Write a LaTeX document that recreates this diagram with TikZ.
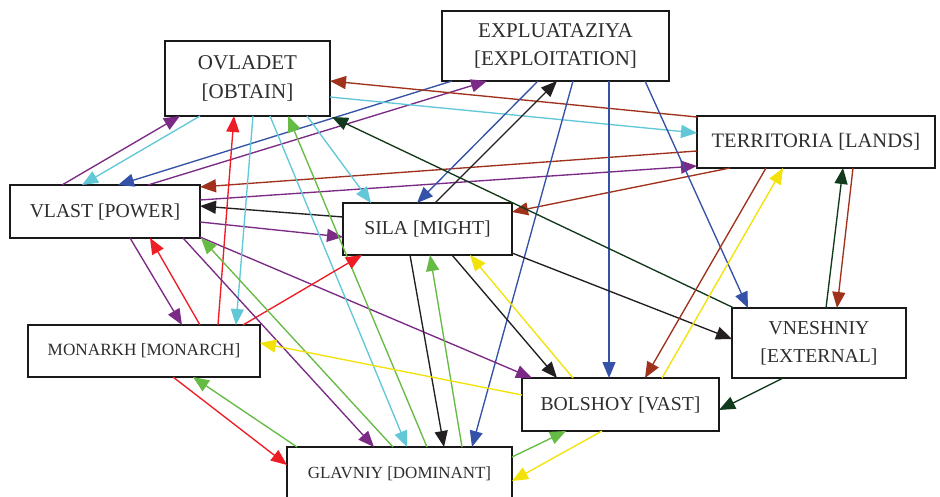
\documentclass[tikz,border=0pt]{standalone}
\usepackage{fontspec}
\setmainfont{Liberation Serif}
\usetikzlibrary{arrows.meta}
\definecolor{cpur}{HTML}{7B2A85}
\definecolor{ccya}{HTML}{62C8D8}
\definecolor{cblu}{HTML}{3452A8}
\definecolor{cbro}{HTML}{A0321C}
\definecolor{cblk}{HTML}{231F20}
\definecolor{cdgr}{HTML}{123A1C}
\definecolor{cred}{HTML}{EE1D25}
\definecolor{cgre}{HTML}{66BB44}
\definecolor{cyel}{HTML}{F2E20A}
\begin{document}
\begin{tikzpicture}[x=1pt,y=-1pt,
  box/.style={draw=black!90, line width=1.5pt, fill=white, inner sep=0pt, outer sep=0pt,
    align=center, text=black!82, font=\fontsize{19.7}{28}\selectfont},
  conn/.style={line width=1.35pt, -{Triangle[length=16pt,width=13pt]}},
]
\useasboundingbox (0,0) rectangle (940,497);
% nodes
\node[box, minimum width=165pt, minimum height=75pt, font=\fontsize{21}{29}\selectfont] (ov) at (247.5,78.5) {OVLADET\\{[OBTAIN]}};
\node[box, minimum width=227pt, minimum height=70pt, font=\fontsize{21}{28.5}\selectfont] (ex) at (555.5,46) {EXPLUATAZIYA\\{[EXPLOITATION]}};
\node[box, minimum width=238pt, minimum height=52pt, font=\fontsize{20.5}{28}\selectfont] (te) at (816,142) {TERRITORIA [LANDS]};
\node[box, minimum width=190pt, minimum height=53pt] (vl) at (105,211.5) {VLAST [POWER]};
\node[box, minimum width=169pt, minimum height=52pt] (si) at (427.5,229) {SILA [MIGHT]};
\node[box, minimum width=232pt, minimum height=52pt, font=\fontsize{17.2}{24}\selectfont] (mo) at (144,351) {MONARKH [MONARCH]};
\node[box, minimum width=225pt, minimum height=53pt, font=\fontsize{17}{24}\selectfont] (gl) at (399.5,473.5) {GLAVNIY [DOMINANT]};
\node[box, minimum width=197pt, minimum height=53pt] (bo) at (620.5,404.5) {BOLSHOY [VAST]};
\node[box, minimum width=174pt, minimum height=70pt] (vn) at (819,343) {VNESHNIY\\{[EXTERNAL]}};
% connectors
\draw[conn,cpur] ([xshift=52pt]vl.north west) -- ([xshift=15pt]ov.south west);
\draw[conn,ccya] ([xshift=35pt]ov.south west) -- ([xshift=72pt]vl.north west);
\draw[conn,cblu] ([xshift=10pt]ex.south west) -- ([xshift=108pt]vl.north west);
\draw[conn,cpur] ([xshift=138pt]vl.north west) -- ([xshift=45pt]ex.south west);
\draw[conn,cbro] ([yshift=-35pt]te.north west) -- ([yshift=-2pt]vl.north east);
\draw[conn,cpur] ([yshift=-15pt]vl.north east) -- ([yshift=-50pt]te.north west);
\draw[conn,cblk] ([yshift=-14pt]si.north west) -- ([yshift=-21pt]vl.north east);
\draw[conn,cpur] ([yshift=-37pt]vl.north east) -- ([yshift=-34pt]si.north west);
\draw[conn,cbro] ([yshift=-1pt]te.north west) -- ([yshift=-40pt]ov.north east);
\draw[conn,ccya] ([yshift=-56pt]ov.north east) -- ([yshift=-17pt]te.north west);
\draw[conn,cbro] ([xshift=33pt]te.south west) -- ([yshift=-9pt]si.north east);
\draw[conn,cblu] ([xshift=96pt]ex.south west) -- ([xshift=74pt]si.north west);
\draw[conn,cblk] ([xshift=92pt]si.north west) -- ([xshift=115pt]ex.south west);
\draw[conn,cblu] ([xshift=131pt]ex.south west) -- ([xshift=185pt]gl.north west);
\draw[conn,cblu] ([xshift=167pt]ex.south west) -- ([xshift=87pt]bo.north west);
\draw[conn,cblu] ([xshift=203pt]ex.south west) -- ([xshift=16pt]vn.north west);
\draw[conn,cdgr] ([xshift=2pt]vn.north west) -- ([xshift=2pt,yshift=-1pt]ov.south east);
\draw[conn,cblk] ([yshift=2pt]si.south east) -- ([yshift=-31pt]vn.north west);
\draw[conn,cdgr] ([xshift=94pt]vn.north west) -- ([xshift=146pt]te.south west);
\draw[conn,cbro] ([xshift=156pt]te.south west) -- ([xshift=105pt]vn.north west);
\draw[conn,cbro] ([xshift=69pt]te.south west) -- ([xshift=123pt]bo.north west);
\draw[conn,cyel] ([xshift=140pt]bo.north west) -- ([xshift=86pt]te.south west);
\draw[conn,cdgr] ([xshift=51pt]vn.south west) -- ([yshift=-32pt]bo.north east);
\draw[conn,cblk] ([xshift=109pt]si.south west) -- ([xshift=35pt]bo.north west);
\draw[conn,cyel] ([xshift=51pt]bo.north west) -- ([xshift=127pt]si.south west);
\draw[conn,cpur] ([yshift=1pt]vl.south east) -- ([xshift=10pt]bo.north west);
\draw[conn,cblk] ([xshift=67pt]si.south west) -- ([xshift=157pt]gl.north west);
\draw[conn,cgre] ([xshift=175pt]gl.north west) -- ([xshift=87pt]si.south west);
\draw[conn,cgre] ([xshift=140pt]gl.north west) -- ([xshift=123pt]ov.south west);
\draw[conn,ccya] ([xshift=105pt]ov.south west) -- ([xshift=120pt]gl.north west);
\draw[conn,ccya] ([xshift=142pt]ov.south west) -- ([xshift=28pt]si.north west);
\draw[conn,ccya] ([xshift=88pt]ov.south west) -- ([xshift=208pt]mo.north west);
\draw[conn,cred] ([xshift=190pt]mo.north west) -- ([xshift=69pt]ov.south west);
\draw[conn,cred] ([xshift=215pt]mo.north west) -- ([xshift=19pt]si.south west);
\draw[conn,cred] ([xshift=172pt]mo.north west) -- ([xshift=140pt]vl.south west);
\draw[conn,cpur] ([xshift=120pt]vl.south west) -- ([xshift=154pt]mo.north west);
\draw[conn,cpur] ([xshift=173pt]vl.south west) -- ([xshift=87pt]gl.north west);
\draw[conn,cgre] ([xshift=106pt]gl.north west) -- ([xshift=1pt]vl.south east);
\draw[conn,cyel] ([yshift=-17pt]bo.north west) -- ([yshift=-18pt]mo.north east);
\draw[conn,cred] ([xshift=145pt]mo.south west) -- ([yshift=-18pt]gl.north west);
\draw[conn,cgre] ([xshift=10pt]gl.north west) -- ([xshift=165pt]mo.south west);
\draw[conn,cgre] ([yshift=-10pt]gl.north east) -- ([xshift=44pt]bo.south west);
\draw[conn,cyel] ([xshift=80pt]bo.south west) -- ([yshift=-34pt]gl.north east);
\end{tikzpicture}
\end{document}
